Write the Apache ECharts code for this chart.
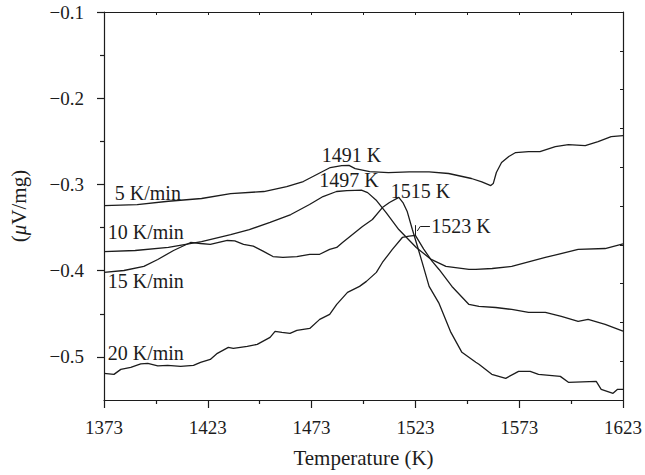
<!DOCTYPE html>
<html>
<head>
<meta charset="utf-8">
<script src="https://cdn.jsdelivr.net/npm/echarts@6/dist/echarts.min.js"></script>
<style>
  html, body { margin: 0; padding: 0; background: #ffffff; }
  #chart { width: 645px; height: 475px; }
</style>
</head>
<body>
<div id="chart"></div>
<script>
// DTA signal (μV/mg) against temperature (K) for four heating rates.
const temp5 = [1373,1389,1404,1420,1434,1450,1461,1469,1475.5,1482,1487.5,1491,1494,1501,1510,1520,1529.6,1539,1550,1555,1559.3,1560.5,1562,1564.5,1568,1571.3,1577.5,1583,1590.4,1596.7,1604.8,1611,1617.3,1623];
const signal5 = [-0.3245,-0.3233,-0.3195,-0.3163,-0.3106,-0.3082,-0.3025,-0.2966,-0.2885,-0.2804,-0.2781,-0.2778,-0.2816,-0.2851,-0.2862,-0.2855,-0.2854,-0.2873,-0.2931,-0.2970,-0.3013,-0.2990,-0.2862,-0.2746,-0.2676,-0.2630,-0.2619,-0.2619,-0.2561,-0.2538,-0.2549,-0.2503,-0.2445,-0.2433];

const temp10 = [1373,1388,1404,1420,1434,1443,1453,1463,1472,1478.5,1485,1490,1494,1497,1500,1504,1509,1515,1523.4,1530.6,1537.7,1548.8,1552.1,1560,1569.4,1585.6,1601.4,1614.4,1623];
const signal10 = [-0.3778,-0.3766,-0.3731,-0.3662,-0.3581,-0.3523,-0.3441,-0.3349,-0.3233,-0.3140,-0.3082,-0.3071,-0.3068,-0.3066,-0.3095,-0.3180,-0.3330,-0.3523,-0.3731,-0.3870,-0.3951,-0.3986,-0.3986,-0.3975,-0.3951,-0.3847,-0.3754,-0.3743,-0.3690];

const temp15 = [1373,1382.6,1392.2,1398.9,1406.5,1414.7,1419.5,1424.2,1432.4,1436,1440.2,1444.9,1449.6,1454.4,1459.2,1465.9,1472.1,1476.9,1481.7,1485.1,1487.9,1492.7,1497.5,1502.3,1507.1,1510.5,1515,1517,1519,1521.5,1524,1526.3,1529.6,1534.4,1540.1,1545.4,1552.1,1553.6,1559.8,1566.5,1572.7,1578.3,1582.3,1592.8,1596.7,1610.1,1612.5,1618.2,1620.4,1623];
const signal15 = [-0.4020,-0.3998,-0.3951,-0.3870,-0.3766,-0.3673,-0.3685,-0.3696,-0.3650,-0.3655,-0.3696,-0.3716,-0.3774,-0.3836,-0.3847,-0.3836,-0.3810,-0.3810,-0.3754,-0.3731,-0.3673,-0.3580,-0.3488,-0.3407,-0.3268,-0.3210,-0.3150,-0.3210,-0.3310,-0.3520,-0.3720,-0.3906,-0.4183,-0.4380,-0.4716,-0.4947,-0.5063,-0.5086,-0.5202,-0.5249,-0.5168,-0.5168,-0.5203,-0.5226,-0.5295,-0.5284,-0.5376,-0.5423,-0.5376,-0.5376];

const temp20 = [1373,1377.8,1381.1,1385.9,1390.7,1394.1,1398.9,1403.7,1409.9,1416.1,1419.5,1424.2,1427.6,1432.9,1435.3,1442,1446.8,1453,1455.4,1458.7,1462.6,1465.9,1472.1,1476.9,1481.7,1485.1,1490.3,1496.1,1499.4,1504.2,1507.1,1511.9,1516.7,1520,1523,1527,1531,1534.4,1540.6,1548.8,1553.6,1561.7,1569.4,1577.5,1585.6,1593.3,1601.4,1606.2,1614.4,1623];
const signal20 = [-0.5191,-0.5203,-0.5145,-0.5121,-0.5081,-0.5075,-0.5104,-0.5098,-0.5110,-0.5098,-0.5064,-0.5029,-0.4959,-0.4890,-0.4901,-0.4878,-0.4855,-0.4774,-0.4704,-0.4716,-0.4728,-0.4693,-0.4670,-0.4565,-0.4507,-0.4391,-0.4252,-0.4182,-0.4124,-0.4020,-0.3905,-0.3754,-0.3615,-0.3600,-0.3590,-0.3750,-0.3890,-0.3986,-0.4183,-0.4392,-0.4415,-0.4427,-0.4450,-0.4484,-0.4484,-0.4531,-0.4589,-0.4565,-0.4623,-0.4700];

const rateNames = ['5 K/min', '10 K/min', '15 K/min', '20 K/min'];
const peakTemps = [1491, 1497, 1515, 1523];

const xTickLabels = [1373, 1423, 1473, 1523, 1573, 1623];
const xMinorTicks = [1398, 1448, 1498, 1548, 1598];
const xTopTicks = [1398, 1423, 1448, 1473, 1498, 1523, 1548, 1573, 1598];
const yTickLabels = [-0.5, -0.4, -0.3, -0.2, -0.1];
const yMinorTicks = [-0.45, -0.35, -0.25, -0.15];
const yRightTicks = [-0.505, -0.46, -0.415, -0.37, -0.325, -0.28, -0.235, -0.19, -0.145];

const FONT = 'Liberation Serif';
const INK = '#1c1c1c';
const FS = 19;
const FS_NOTE = 20;
const FS_TITLE = 21;

function pairs(t, v) { return t.map((x, i) => [x, v[i]]); }
function valueAt(t, v, x) { return v[t.indexOf(x)]; }

// text placed at a data-space anchor
function tag(text, coord, align) {
  return {
    coord: coord,
    name: text,
    symbol: 'circle',
    symbolSize: 0,
    itemStyle: { color: 'rgba(0,0,0,0)' },
    label: {
      show: true, position: 'inside', formatter: '{b}',
      align: align, verticalAlign: 'middle',
      fontFamily: FONT, fontSize: FS_NOTE, color: INK
    }
  };
}

const temps = [temp5, temp10, temp15, temp20];
const signals = [signal5, signal10, signal15, signal20];

// anchors of the rate labels (left aligned) and the peak labels
const rateAnchors = [[1378.2, -0.3095], [1374.8, -0.3557], [1374.8, -0.4125], [1374.8, -0.4954]];
const peakAnchors = [[1492.2, -0.2654, 'center'], [1491.0, -0.2943, 'center'], [1525.5, -0.3080, 'center'], [1530.6, -0.3485, 'left']];

const series = temps.map((t, k) => {
  const marks = [tag(rateNames[k], rateAnchors[k], 'left'),
                 tag(peakTemps[k] + ' K', peakAnchors[k].slice(0, 2), peakAnchors[k][2])];
  const s = {
    type: 'line',
    name: rateNames[k],
    data: pairs(t, signals[k]),
    showSymbol: false,
    symbol: 'none',
    smooth: false,
    lineStyle: { color: INK, width: 1.3 },
    itemStyle: { color: INK },
    silent: true,
    z: 3,
    markPoint: { silent: true, animation: false, data: marks }
  };
  if (k === 3) {
    // leader from the "1523 K" label to the peak, plus the peak tick
    const pT = peakTemps[3];
    const pV = valueAt(temp20, signal20, pT);
    s.markLine = {
      silent: true, animation: false,
      symbol: ['none', 'none'],
      label: { show: false },
      lineStyle: { color: INK, width: 1, type: 'solid' },
      data: [
        [{ coord: [1530.0, -0.3485] }, { coord: [1525.4, -0.3485] }],
        [{ coord: [1525.4, -0.3485] }, { coord: [pT + 0.9, pV + 0.005] }],
        [{ coord: [pT, pV] }, { coord: [pT, pV + 0.0118] }]
      ]
    };
  }
  return s;
});

const axisText = { fontFamily: FONT, fontSize: FS, color: INK };
const titleText = { fontFamily: FONT, fontSize: FS_TITLE, color: INK };
const lineStyle = { color: INK, width: 1.2 };

const option = {
  animation: false,
  backgroundColor: '#ffffff',
  grid: { left: 103, right: 20, top: 12, bottom: 75 },
  xAxis: [
    {
      type: 'value', position: 'bottom', min: 1373, max: 1623,
      name: 'Temperature (K)', nameLocation: 'middle', nameGap: 47,
      nameTextStyle: titleText,
      axisLine: { show: true, onZero: false, lineStyle: lineStyle },
      axisTick: { show: true, inside: false, length: 8, lineStyle: lineStyle, customValues: xTickLabels },
      axisLabel: { show: true, margin: 18, customValues: xTickLabels, ...axisText, formatter: v => String(v) },
      splitLine: { show: false }
    },
    {
      type: 'value', position: 'bottom', min: 1373, max: 1623,
      axisLine: { show: false, onZero: false },
      axisTick: { show: true, inside: false, length: 4, lineStyle: lineStyle, customValues: xMinorTicks },
      axisLabel: { show: false },
      splitLine: { show: false }
    },
    {
      type: 'value', position: 'top', min: 1373, max: 1623,
      axisLine: { show: true, onZero: false, lineStyle: lineStyle },
      axisTick: { show: true, inside: true, length: 3, lineStyle: { color: INK, width: 1 }, customValues: xTopTicks },
      axisLabel: { show: false },
      splitLine: { show: false }
    }
  ],
  yAxis: [
    {
      type: 'value', position: 'left', min: -0.55, max: -0.1,
      name: '({mu|μ}V/mg)', nameLocation: 'middle', nameGap: 75, nameRotate: 90,
      nameTextStyle: { ...titleText, rich: { mu: { fontFamily: FONT, fontSize: FS_TITLE, fontStyle: 'italic', color: INK } } },
      axisLine: { show: true, onZero: false, lineStyle: lineStyle },
      axisTick: { show: true, inside: false, length: 7, lineStyle: lineStyle, customValues: yTickLabels },
      axisLabel: {
        show: true, margin: 20, customValues: yTickLabels, ...axisText,
        formatter: v => (v < 0 ? '\u2212' : '') + Math.abs(v).toFixed(1)
      },
      splitLine: { show: false }
    },
    {
      type: 'value', position: 'left', min: -0.55, max: -0.1,
      axisLine: { show: false, onZero: false },
      axisTick: { show: true, inside: false, length: 4, lineStyle: lineStyle, customValues: yMinorTicks },
      axisLabel: { show: false },
      splitLine: { show: false }
    },
    {
      type: 'value', position: 'right', min: -0.55, max: -0.1,
      axisLine: { show: true, onZero: false, lineStyle: lineStyle },
      axisTick: { show: true, inside: true, length: 3, lineStyle: { color: INK, width: 1 }, customValues: yRightTicks },
      axisLabel: { show: false },
      splitLine: { show: false }
    }
  ],
  series: series
};

const chart = echarts.init(document.getElementById('chart'), null, { renderer: 'svg', width: 645, height: 475 });
chart.setOption(option);
</script>
</body>
</html>
